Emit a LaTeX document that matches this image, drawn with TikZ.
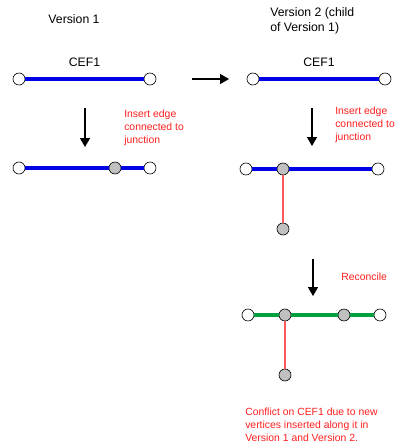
\documentclass[tikz,border=0pt]{standalone}
\usepackage{fontspec}
\setmainfont{Liberation Sans}
\usetikzlibrary{arrows,positioning}
\definecolor{edgeblue}{RGB}{0,0,230}
\definecolor{edgegreen}{RGB}{0,160,60}
\definecolor{notered}{RGB}{255,30,30}
\definecolor{linkred}{RGB}{250,90,90}
\definecolor{junctgray}{RGB}{192,192,192}
\tikzset
{
    vertex/.style = {circle, draw=black, fill=white, inner sep=0pt, minimum size=9pt, line width=0.5pt},
    junct/.style = {vertex, fill=junctgray},
    cef/.style = {draw=edgeblue, line width=2.3pt},
    merged/.style = {draw=edgegreen, line width=3pt},
    newedge/.style = {draw=linkred, line width=0.8pt},
    note/.style = {text=notered, font=\fontsize{7.8}{9.8}\selectfont, align=left, anchor=north west, inner sep=0pt},
    title/.style = {font=\fontsize{9.2}{11.3}\selectfont, align=left, inner sep=0pt},
    step arrow/.style = {-triangle 60, line width=0.8pt}
}
\begin{document}
\begin{tikzpicture}[x=0.75pt, y=-0.75pt]
\useasboundingbox (0,0) rectangle (404,446);
% titles
\node [title] (v1) at (74,19) {Version 1};
\node [title, anchor=north west] (v2) at (270,7) {Version 2 (child\\of Version 1)};
% version 1, before
\node [vertex] (a1) at (19,79) {};
\node [vertex] (b1) at (150,79) {};
\draw [cef] (a1) -- node [above=8pt, black, title] (c1) {CEF1} (b1);
% version 2, before
\node [vertex] (a2) at (253,79) {};
\node [vertex] (b2) at (385,79) {};
\draw [cef] (a2) -- node [above=8pt, black, title] (c2) {CEF1} (b2);
\coordinate (r1) at (192,79);
\coordinate (r2) at (229,79);
\draw [step arrow] (r1) -- (r2);
% edits
\coordinate (d1) at (85,108);
\coordinate (d2) at (85,147);
\draw [step arrow] (d1) -- (d2);
\node [note] (n1) at (124,110) {Insert edge\\connected to\\junction};
\coordinate (e1) at (312,108);
\coordinate (e2) at (312,146);
\draw [step arrow] (e1) -- (e2);
\node [note] (n2) at (335,107) {Insert edge\\connected to\\junction};
% version 1, after
\node [vertex] (a3) at (19,168) {};
\node [junct] (j3) at (115,168) {};
\node [vertex] (b3) at (150,168) {};
\draw [cef] (a3) -- (j3) -- (b3);
% version 2, after
\node [vertex] (a4) at (246,169) {};
\node [junct] (j4) at (283,169) {};
\node [vertex] (b4) at (378,169) {};
\node [junct] (k4) at (283,229) {};
\draw [cef] (a4) -- (j4) -- (b4);
\draw [newedge] (j4) -- (k4);
% reconcile
\coordinate (f1) at (313,259);
\coordinate (f2) at (313,296);
\draw [step arrow] (f1) -- (f2);
\node [note, anchor=west] (n3) at (341,277) {Reconcile};
% result
\node [vertex] (a5) at (248,315) {};
\node [junct] (j5) at (285,315) {};
\node [junct] (m5) at (344,315) {};
\node [vertex] (b5) at (380,315) {};
\node [junct] (k5) at (285,375) {};
\draw [merged] (a5) -- (j5) -- (m5) -- (b5);
\draw [newedge] (j5) -- (k5);
\node [note] (n4) at (245,408) {Conflict on CEF1 due to new\\vertices inserted along it in\\Version 1 and Version 2.};
\end{tikzpicture}
\end{document}
